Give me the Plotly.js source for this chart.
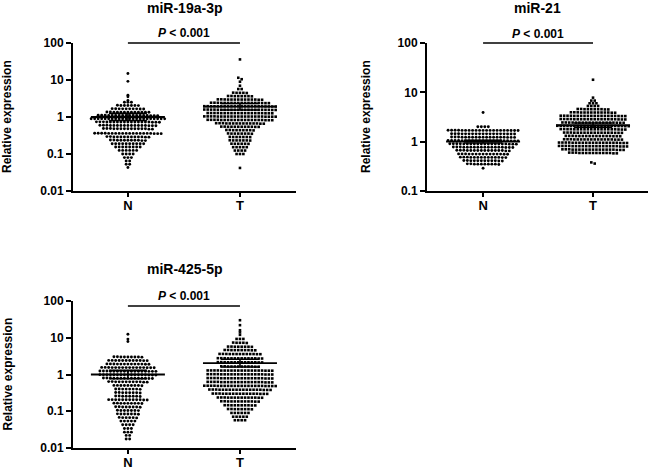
<!DOCTYPE html>
<html><head><meta charset="utf-8">
<script src="https://cdn.plot.ly/plotly-3.0.1.min.js"></script>
<style>html,body{margin:0;padding:0;background:#fff}#chart{width:650px;height:469px}</style>
</head><body><div id="chart"></div>
<script>
// ---------- data ----------
const panelTitles = ['miR-19a-3p', 'miR-21', 'miR-425-5p'];
const groups = ['N', 'T'];
const pLabel = '<i>P</i> &lt; 0.001';
const yTickVals = [[0.01, 0.1, 1, 10, 100], [0.1, 1, 10, 100], [0.01, 0.1, 1, 10, 100]];
const yTickText = [['0.01', '0.1', '1', '10', '100'], ['0.1', '1', '10', '100'], ['0.01', '0.1', '1', '10', '100']];

const n19 = [15, 9.2, 3.9, 3.5, 2.8,
 2.5, 2.5, 2.5,
 2.05, 2.05, 2.07, 2.03, 2.05, 2.05, 2.05,
 1.66, 1.66, 1.68, 1.64, 1.66, 1.66, 1.66, 1.67, 1.66, 1.65,
 1.35, 1.35, 1.36, 1.34, 1.35, 1.35, 1.35, 1.36, 1.35, 1.34, 1.35, 1.35, 1.35,
 1.1, 1.1, 1.11, 1.09, 1.1, 1.1, 1.1, 1.11, 1.1, 1.09, 1.1, 1.1, 1.11, 1.1, 1.1, 1.09, 1.1, 1.1,
 0.895, 0.895, 0.9, 0.89, 0.895, 0.895, 0.895, 0.9, 0.895, 0.89, 0.895, 0.895, 0.9, 0.895, 0.895, 0.89, 0.895, 0.895, 0.9, 0.895, 0.89, 0.895,
 0.73, 0.73, 0.74, 0.72, 0.73, 0.73, 0.73, 0.74, 0.73, 0.72, 0.73, 0.73, 0.74, 0.73, 0.73, 0.72, 0.73, 0.73, 0.73,
 0.59, 0.59, 0.6, 0.58, 0.59, 0.59, 0.59, 0.6, 0.59, 0.58, 0.59, 0.59, 0.6, 0.59, 0.59, 0.58, 0.59,
 0.48, 0.48, 0.49, 0.47, 0.48, 0.48, 0.48, 0.49, 0.48, 0.47, 0.48, 0.48, 0.49, 0.48, 0.48,
 0.36, 0.36, 0.365, 0.355, 0.36, 0.36, 0.36, 0.365, 0.36, 0.355, 0.36, 0.36, 0.365, 0.36, 0.36, 0.355, 0.36, 0.36, 0.365, 0.36,
 0.29, 0.29, 0.295, 0.285, 0.29, 0.29, 0.29, 0.295, 0.29, 0.285, 0.29, 0.29, 0.29,
 0.235, 0.235, 0.24, 0.23, 0.235, 0.235, 0.235, 0.24, 0.235, 0.23, 0.235,
 0.19, 0.19, 0.19, 0.19, 0.19, 0.19, 0.19, 0.19, 0.19, 0.19,
 0.155, 0.155, 0.155, 0.155, 0.155, 0.155, 0.155, 0.155,
 0.125, 0.125, 0.125, 0.125, 0.125, 0.125,
 0.1, 0.1, 0.1, 0.1,
 0.08, 0.08, 0.08,
 0.065, 0.065,
 0.053, 0.053,
 0.043];

const t19 = [36, 11.5, 10.5, 9, 7, 5.7, 5.7,
 4.5, 4.5, 4.55, 4.45, 4.5,
 3.66, 3.66, 3.7, 3.62, 3.66, 3.66, 3.66, 3.7,
 2.96, 2.96, 3, 2.92, 2.96, 2.96, 2.96, 3, 2.96, 2.92, 2.96, 2.96, 2.98, 2.96,
 2.4, 2.4, 2.43, 2.37, 2.4, 2.4, 2.4, 2.43, 2.4, 2.37, 2.4, 2.4, 2.42, 2.4, 2.4, 2.38, 2.4, 2.4,
 1.94, 1.94, 1.96, 1.92, 1.94, 1.94, 1.94, 1.96, 1.94, 1.92, 1.94, 1.94, 1.95, 1.94, 1.94, 1.93, 1.94, 1.94, 1.95, 1.94, 1.93, 1.94,
 1.57, 1.57, 1.59, 1.55, 1.57, 1.57, 1.57, 1.59, 1.57, 1.55, 1.57, 1.57, 1.58, 1.57, 1.57, 1.56, 1.57, 1.57, 1.58, 1.57, 1.56, 1.57,
 1.27, 1.27, 1.28, 1.26, 1.27, 1.27, 1.27, 1.28, 1.27, 1.26, 1.27, 1.27, 1.28, 1.27, 1.27, 1.26, 1.27, 1.27, 1.28, 1.27,
 1.03, 1.03, 1.04, 1.02, 1.03, 1.03, 1.03, 1.04, 1.03, 1.02, 1.03, 1.03, 1.04, 1.03, 1.03, 1.02, 1.03, 1.03, 1.04, 1.03, 1.02, 1.03,
 0.83, 0.83, 0.84, 0.82, 0.83, 0.83, 0.83, 0.84, 0.83, 0.82, 0.83, 0.83, 0.84, 0.83, 0.83, 0.82, 0.83, 0.83, 0.84, 0.83,
 0.67, 0.67, 0.68, 0.66, 0.67, 0.67, 0.67, 0.68, 0.67, 0.66, 0.67, 0.67, 0.68, 0.67, 0.67,
 0.545, 0.545, 0.55, 0.54, 0.545, 0.545, 0.545, 0.55, 0.545, 0.54, 0.545, 0.545,
 0.44, 0.44, 0.445, 0.435, 0.44, 0.44, 0.44, 0.445, 0.44,
 0.356, 0.356, 0.36, 0.352, 0.356, 0.356, 0.356, 0.356,
 0.288, 0.288, 0.29, 0.286, 0.288, 0.288, 0.288,
 0.233, 0.233, 0.235, 0.231, 0.233, 0.233, 0.233,
 0.189, 0.189, 0.19, 0.188, 0.189, 0.189,
 0.153, 0.153, 0.153, 0.153, 0.153,
 0.124, 0.124, 0.124, 0.124,
 0.1, 0.1, 0.1,
 0.042];

const n21 = [3.9, 2, 2, 2, 2,
 1.69, 1.69, 1.7, 1.68, 1.69, 1.69, 1.69, 1.7, 1.69, 1.68, 1.69, 1.69, 1.7, 1.69, 1.69, 1.68, 1.69, 1.69, 1.7, 1.69, 1.69,
 1.44, 1.44, 1.45, 1.43, 1.44, 1.44, 1.44, 1.45, 1.44, 1.43, 1.44, 1.44, 1.45, 1.44, 1.44, 1.43, 1.44, 1.44, 1.44,
 1.23, 1.23, 1.24, 1.22, 1.23, 1.23, 1.23, 1.24, 1.23, 1.22, 1.23, 1.23, 1.24, 1.23, 1.23, 1.22, 1.23, 1.23, 1.23,
 1.05, 1.05, 1.06, 1.04, 1.05, 1.05, 1.05, 1.06, 1.05, 1.04, 1.05, 1.05, 1.06, 1.05, 1.05, 1.04, 1.05, 1.05, 1.06, 1.05, 1.05,
 0.9, 0.9, 0.91, 0.89, 0.9, 0.9, 0.9, 0.91, 0.9, 0.89, 0.9, 0.9, 0.91, 0.9, 0.9, 0.89, 0.9, 0.9, 0.91, 0.9,
 0.77, 0.77, 0.78, 0.76, 0.77, 0.77, 0.77, 0.78, 0.77, 0.76, 0.77, 0.77, 0.78, 0.77, 0.77, 0.76, 0.77, 0.77,
 0.66, 0.66, 0.67, 0.65, 0.66, 0.66, 0.66, 0.67, 0.66, 0.65, 0.66, 0.66, 0.67, 0.66, 0.66, 0.66,
 0.56, 0.56, 0.565, 0.555, 0.56, 0.56, 0.56, 0.565, 0.56, 0.555, 0.56, 0.56, 0.565, 0.56, 0.56,
 0.48, 0.48, 0.485, 0.475, 0.48, 0.48, 0.48, 0.485, 0.48, 0.475, 0.48, 0.48, 0.485, 0.48,
 0.41, 0.41, 0.415, 0.405, 0.41, 0.41, 0.41, 0.415, 0.41, 0.405, 0.41, 0.41,
 0.35, 0.35, 0.355, 0.345, 0.35, 0.35, 0.35, 0.355, 0.35, 0.35,
 0.29];

const t21 = [18, 7.8, 6.8, 6.8, 6, 6, 6, 5.3, 5.3, 5.3, 5.3,
 4.55, 4.55, 4.6, 4.5, 4.55, 4.55, 4.55, 4.6, 4.55, 4.5,
 3.9, 3.9, 3.94, 3.86, 3.9, 3.9, 3.9, 3.94, 3.9, 3.86, 3.9, 3.9, 3.93, 3.9,
 3.33, 3.33, 3.36, 3.3, 3.33, 3.33, 3.33, 3.36, 3.33, 3.3, 3.33, 3.33, 3.35, 3.33, 3.33, 3.31, 3.33, 3.33, 3.35, 3.33,
 2.85, 2.85, 2.88, 2.82, 2.85, 2.85, 2.85, 2.88, 2.85, 2.82, 2.85, 2.85, 2.87, 2.85, 2.85, 2.83, 2.85, 2.85, 2.87, 2.85,
 2.43, 2.43, 2.45, 2.41, 2.43, 2.43, 2.43, 2.45, 2.43, 2.41, 2.43, 2.43, 2.44, 2.43, 2.43, 2.42, 2.43, 2.43, 2.44,
 2.08, 2.08, 2.1, 2.06, 2.08, 2.08, 2.08, 2.1, 2.08, 2.06, 2.08, 2.08, 2.09, 2.08, 2.08, 2.07, 2.08, 2.08, 2.09, 2.08, 2.07, 2.08,
 1.78, 1.78, 1.8, 1.76, 1.78, 1.78, 1.78, 1.8, 1.78, 1.76, 1.78, 1.78, 1.79, 1.78, 1.78, 1.77, 1.78, 1.78, 1.79, 1.78,
 1.52, 1.52, 1.53, 1.51, 1.52, 1.52, 1.52, 1.53, 1.52, 1.51, 1.52, 1.52, 1.53, 1.52, 1.52, 1.51, 1.52, 1.52,
 1.3, 1.3, 1.31, 1.29, 1.3, 1.3, 1.3, 1.31, 1.3, 1.29, 1.3, 1.3, 1.31, 1.3, 1.3, 1.29, 1.3,
 1.11, 1.11, 1.12, 1.1, 1.11, 1.11, 1.11, 1.12, 1.11, 1.1, 1.11, 1.11, 1.12, 1.11, 1.11, 1.1, 1.11, 1.11,
 0.95, 0.95, 0.96, 0.94, 0.95, 0.95, 0.95, 0.96, 0.95, 0.94, 0.95, 0.95, 0.96, 0.95, 0.95, 0.94, 0.95, 0.95, 0.96, 0.95, 0.95,
 0.81, 0.81, 0.82, 0.8, 0.81, 0.81, 0.81, 0.82, 0.81, 0.8, 0.81, 0.81, 0.82, 0.81, 0.81, 0.8, 0.81, 0.81, 0.82, 0.81, 0.81,
 0.69, 0.69, 0.7, 0.68, 0.69, 0.69, 0.69, 0.7, 0.69, 0.68, 0.69, 0.69, 0.7, 0.69, 0.69, 0.68, 0.69, 0.69, 0.69,
 0.59, 0.59, 0.6, 0.58, 0.59, 0.59, 0.59, 0.6, 0.59, 0.58, 0.59, 0.59, 0.6, 0.59, 0.59,
 0.38, 0.36];

const n425 = [12.5, 9.2, 7.9,
 3, 3, 3.03, 2.97, 3, 3, 3, 3.03, 3,
 2.4, 2.4, 2.42, 2.38, 2.4, 2.4, 2.4, 2.42, 2.4, 2.38, 2.4, 2.4,
 1.92, 1.92, 1.94, 1.9, 1.92, 1.92, 1.92, 1.94, 1.92, 1.9, 1.92, 1.92, 1.93,
 1.54, 1.54, 1.56, 1.52, 1.54, 1.54, 1.54, 1.56, 1.54, 1.52, 1.54, 1.54, 1.55, 1.54, 1.54, 1.53,
 1.23, 1.23, 1.24, 1.22, 1.23, 1.23, 1.23, 1.24, 1.23, 1.22, 1.23, 1.23, 1.24, 1.23, 1.23, 1.22, 1.23,
 0.98, 0.98, 0.99, 0.97, 0.98, 0.98, 0.98, 0.99, 0.98, 0.97, 0.98, 0.98, 0.99, 0.98, 0.98, 0.97, 0.98,
 0.79, 0.79, 0.8, 0.78, 0.79, 0.79, 0.79, 0.8, 0.79, 0.78, 0.79, 0.79, 0.8, 0.79, 0.79,
 0.63, 0.63, 0.64, 0.62, 0.63, 0.63, 0.63, 0.64, 0.63, 0.62, 0.63, 0.63,
 0.5, 0.5, 0.505, 0.495, 0.5, 0.5, 0.5, 0.505, 0.5,
 0.4, 0.4, 0.405, 0.395, 0.4, 0.4, 0.4, 0.405,
 0.32, 0.32, 0.325, 0.315, 0.32, 0.32, 0.32, 0.325,
 0.256, 0.256, 0.26, 0.252, 0.256, 0.256, 0.256, 0.26,
 0.205, 0.205, 0.207, 0.203, 0.205, 0.205, 0.205, 0.207, 0.205, 0.203, 0.205, 0.205,
 0.164, 0.164, 0.166, 0.162, 0.164, 0.164, 0.164, 0.166, 0.164,
 0.131, 0.131, 0.133, 0.129, 0.131, 0.131, 0.131, 0.133,
 0.105, 0.105, 0.106, 0.104, 0.105, 0.105, 0.105,
 0.084, 0.084, 0.085, 0.083, 0.084, 0.084, 0.084,
 0.067, 0.067, 0.068, 0.066, 0.067, 0.067,
 0.054, 0.054, 0.054, 0.054, 0.054,
 0.043, 0.043, 0.043, 0.043,
 0.034, 0.034, 0.034,
 0.027, 0.027, 0.027,
 0.022, 0.022,
 0.0175, 0.0175];

const t425 = [30, 22, 16, 14, 12, 9.3, 9.3, 9.3,
 7.3, 7.3, 7.4, 7.2, 7.3,
 5.7, 5.7, 5.75, 5.65, 5.7, 5.7, 5.7, 5.75,
 4.6, 4.6, 4.65, 4.55, 4.6, 4.6, 4.6, 4.65, 4.6, 4.55,
 3.6, 3.6, 3.63, 3.57, 3.6, 3.6, 3.6, 3.63, 3.6, 3.57, 3.6, 3.6, 3.62,
 2.75, 2.75, 2.78, 2.72, 2.75, 2.75, 2.75, 2.78, 2.75, 2.72, 2.75, 2.75, 2.77, 2.75,
 2.15, 2.15, 2.17, 2.13, 2.15, 2.15, 2.15, 2.17, 2.15, 2.13, 2.15, 2.15, 2.16, 2.15,
 1.65, 1.65, 1.67, 1.63, 1.65, 1.65, 1.65, 1.67, 1.65, 1.63, 1.65, 1.65,
 1.28, 1.28, 1.29, 1.27, 1.28, 1.28, 1.28, 1.29, 1.28, 1.27, 1.28, 1.28, 1.29, 1.28, 1.28, 1.27, 1.28, 1.28, 1.29, 1.28,
 1.01, 1.01, 1.02, 1, 1.01, 1.01, 1.01, 1.02, 1.01, 1, 1.01, 1.01, 1.02, 1.01, 1.01, 1, 1.01, 1.01, 1.02, 1.01,
 0.79, 0.79, 0.8, 0.78, 0.79, 0.79, 0.79, 0.8, 0.79, 0.78, 0.79, 0.79, 0.8, 0.79, 0.79, 0.78, 0.79, 0.79, 0.8, 0.79,
 0.62, 0.62, 0.63, 0.61, 0.62, 0.62, 0.62, 0.63, 0.62, 0.61, 0.62, 0.62, 0.63, 0.62, 0.62, 0.61, 0.62, 0.62, 0.63, 0.62,
 0.49, 0.49, 0.495, 0.485, 0.49, 0.49, 0.49, 0.495, 0.49, 0.485, 0.49, 0.49, 0.495, 0.49, 0.49, 0.485, 0.49, 0.49, 0.495, 0.49, 0.485, 0.49,
 0.385, 0.385, 0.39, 0.38, 0.385, 0.385, 0.385, 0.39, 0.385, 0.38, 0.385, 0.385, 0.39, 0.385, 0.385, 0.38, 0.385, 0.385, 0.385,
 0.3, 0.3, 0.303, 0.297, 0.3, 0.3, 0.3, 0.303, 0.3, 0.297, 0.3, 0.3, 0.303, 0.3, 0.3, 0.297, 0.3,
 0.235, 0.235, 0.237, 0.233, 0.235, 0.235, 0.235, 0.237, 0.235, 0.233, 0.235, 0.235, 0.237, 0.235,
 0.185, 0.185, 0.187, 0.183, 0.185, 0.185, 0.185, 0.187, 0.185, 0.183, 0.185, 0.185,
 0.145, 0.145, 0.146, 0.144, 0.145, 0.145, 0.145, 0.146, 0.145, 0.144,
 0.114, 0.114, 0.115, 0.113, 0.114, 0.114, 0.114, 0.115,
 0.09, 0.09, 0.09, 0.09, 0.09, 0.09,
 0.071, 0.071, 0.071, 0.071, 0.071,
 0.057, 0.057, 0.057, 0.057];

const valuesN = [n19, n21, n425];
const valuesT = [t19, t21, t425];
// mean line and SEM caps
const meanN = [1.0, 1.0, 1.0];
const semHiN = [1.25, 1.07, 1.3];
const semLoN = [0.8, 0.94, 0.77];
const meanT = [1.9, 2.15, 2.05];
const semHiT = [2.3, 2.4, 2.6];
const semLoT = [1.55, 1.95, 1.6];

// ---------- layout constants (pixels) ----------
const W = 650, H = 469;
const F = 'Liberation Sans, Arial, sans-serif';
const cfgs = [
  {x0: 73, x1: 296, y0: 43, y1: 191, xr: [-0.49, 1.5], yr: [-2, 2], titleY: 8, pY: 33, bar: 100, ytX: -1},
  {x0: 427, x1: 648, y0: 43, y1: 191, xr: [-0.51, 1.5], yr: [-1, 2], titleY: 8, pY: 34, bar: 100, ytX: 358},
  {x0: 73, x1: 296, y0: 301, y1: 448, xr: [-0.49, 1.5], yr: [-2, 2], titleY: 269, pY: 296, bar: 73, ytX: -1}
];

function swarm(values, cfg, pitchPx, rowPx) {
  const pxPerDec = (cfg.y1 - cfg.y0) / (cfg.yr[1] - cfg.yr[0]);
  const pxPerUnit = (cfg.x1 - cfg.x0) / (cfg.xr[1] - cfg.xr[0]);
  const idx = values.map((v, i) => i).sort((a, b) => values[b] - values[a]);
  const off = new Array(values.length).fill(0);
  let row = [], start = null;
  const flush = () => {
    const n = row.length;
    row.forEach((k, j) => { off[k] = (j - (n - 1) / 2) * pitchPx / pxPerUnit; });
    row = [];
  };
  idx.forEach(k => {
    const yp = Math.log10(values[k]) * pxPerDec;
    if (start === null || start - yp > rowPx) { flush(); start = yp; }
    row.push(k);
  });
  flush();
  return off;
}

const traces = [], annotations = [], shapes = [];
const layout = {
  width: W, height: H, margin: {l: 0, r: 0, t: 0, b: 0},
  paper_bgcolor: '#fff', plot_bgcolor: '#fff', showlegend: false,
  font: {family: F, color: '#000'}
};

cfgs.forEach((cfg, p) => {
  const sfx = p === 0 ? '' : String(p + 1);
  const xa = 'x' + sfx, ya = 'y' + sfx;
  const pxPerUnit = (cfg.x1 - cfg.x0) / (cfg.xr[1] - cfg.xr[0]);
  const axCommon = {
    showline: true, linewidth: 2, linecolor: '#000', ticks: 'outside', tickwidth: 2,
    tickcolor: '#000', showgrid: false, zeroline: false, fixedrange: true
  };
  layout['xaxis' + sfx] = Object.assign({}, axCommon, {
    domain: [cfg.x0 / W, cfg.x1 / W], range: cfg.xr, anchor: ya, ticklen: 4, ticklabelstandoff: -3,
    tickvals: [0, 1], ticktext: groups.map(g => '<b>' + g + '</b>'),
    tickfont: {family: F, size: 13, color: '#000'}
  });
  layout['yaxis' + sfx] = Object.assign({}, axCommon, {
    type: 'log', domain: [1 - cfg.y1 / H, 1 - cfg.y0 / H], range: cfg.yr, anchor: xa, ticklen: 5,
    tickvals: yTickVals[p], ticktext: yTickText[p].map(t => '<b>' + t + '</b>'),
    tickfont: {family: F, size: 12, color: '#000'}
  });

  const sets = [
    {vals: valuesN[p], c: 0, sym: 'circle', size: 2.9, pitch: 3.5, m: meanN[p], hi: semHiN[p], lo: semLoN[p]},
    {vals: valuesT[p], c: 1, sym: 'square', size: 2.6, pitch: 3.4, m: meanT[p], hi: semHiT[p], lo: semLoT[p]}
  ];
  sets.forEach(s => {
    const off = swarm(s.vals, cfg, s.pitch, 1.6);
    traces.push({
      type: 'scatter', mode: 'markers', xaxis: xa, yaxis: ya, hoverinfo: 'skip', cliponaxis: false,
      x: s.vals.map((v, i) => s.c + off[i]), y: s.vals,
      marker: {symbol: s.sym, size: s.size, color: '#000', line: {width: 0}}
    });
    const hw = 37 / pxPerUnit, cw = 19 / pxPerUnit;
    traces.push({
      type: 'scatter', mode: 'lines', xaxis: xa, yaxis: ya, hoverinfo: 'skip',
      x: [s.c - hw, s.c + hw], y: [s.m, s.m], line: {color: '#000', width: 1.8}
    });
    traces.push({
      type: 'scatter', mode: 'lines', xaxis: xa, yaxis: ya, hoverinfo: 'skip',
      x: [s.c - cw, s.c + cw, null, s.c - cw, s.c + cw, null, s.c, s.c],
      y: [s.hi, s.hi, null, s.lo, s.lo, null, s.lo, s.hi],
      line: {color: '#000', width: 1.5}
    });
  });

  // significance bar
  const fx = v => (v - cfg.xr[0]) / (cfg.xr[1] - cfg.xr[0]);
  const fy = (Math.log10(cfg.bar) - cfg.yr[0]) / (cfg.yr[1] - cfg.yr[0]);
  shapes.push({type: 'line', xref: xa + ' domain', yref: ya + ' domain',
    x0: fx(0), x1: fx(1), y0: fy, y1: fy, line: {color: '#000', width: 1.5}});
  annotations.push({xref: xa, yref: 'paper', x: 0.5, y: 1 - cfg.pY / H, yanchor: 'middle', xanchor: 'center',
    showarrow: false, text: '<b>' + pLabel + '</b>', font: {family: F, size: 12, color: '#000'}});
  // panel title
  annotations.push({xref: 'paper', yref: 'paper', x: (cfg.x0 + cfg.x1) / 2 / W, y: 1 - cfg.titleY / H,
    xanchor: 'center', yanchor: 'middle', showarrow: false,
    text: '<b>' + panelTitles[p] + '</b>', font: {family: F, size: 14, color: '#000'}});
  // y axis title
  annotations.push({xref: 'paper', yref: 'paper', x: cfg.ytX / W, y: 1 - (cfg.y0 + cfg.y1) / 2 / H,
    xanchor: 'left', yanchor: 'middle', showarrow: false, textangle: -90, borderpad: 0,
    text: '<b>Relative expression</b>', font: {family: F, size: 12, color: '#000'}});
});

layout.annotations = annotations;
layout.shapes = shapes;
Plotly.newPlot('chart', traces, layout, {staticPlot: true, displayModeBar: false});
</script>
</body></html>
